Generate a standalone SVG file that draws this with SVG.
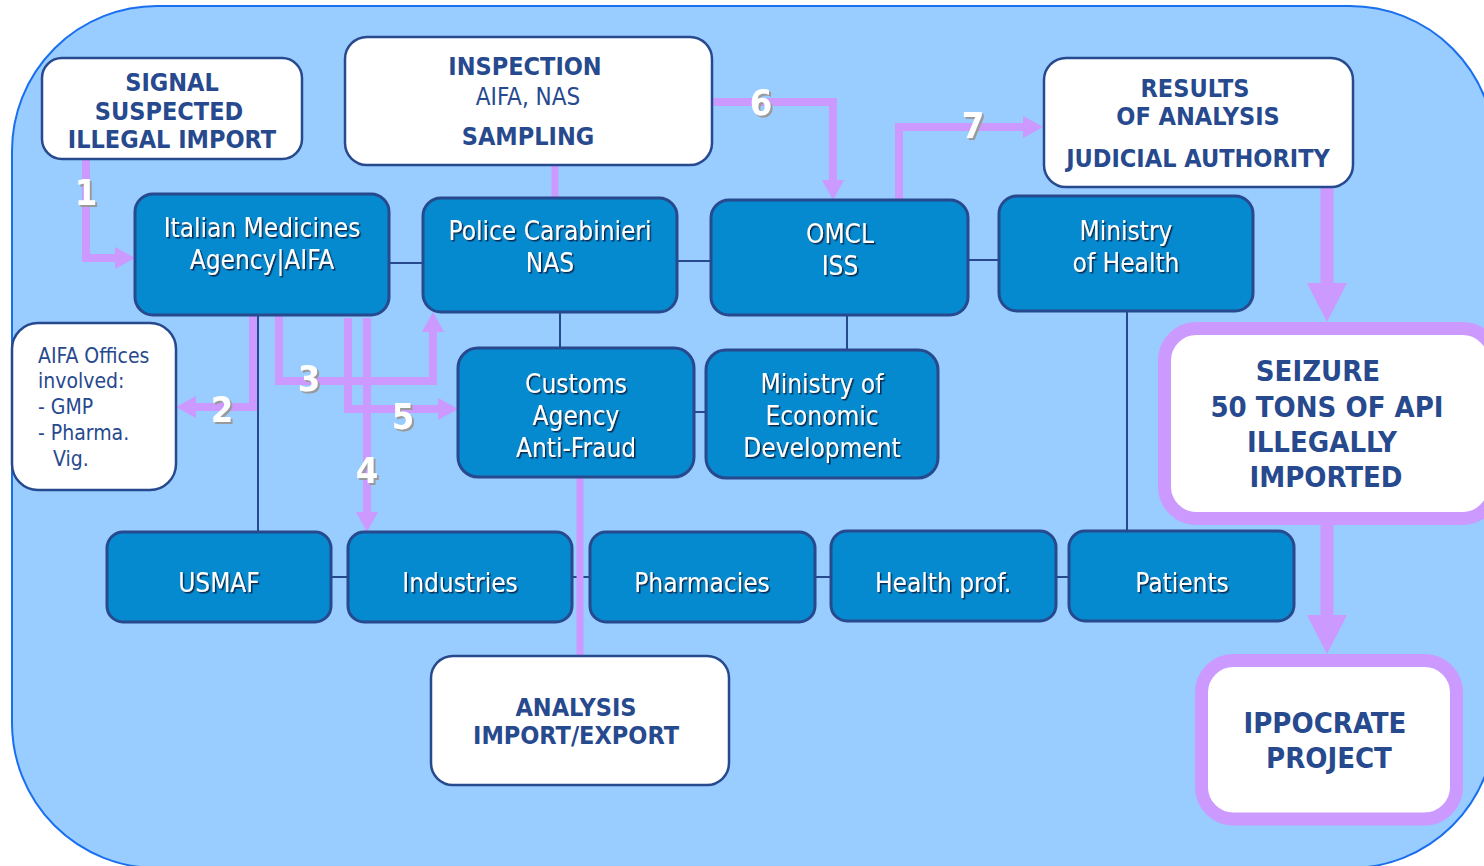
<svg xmlns="http://www.w3.org/2000/svg" width="1484" height="866" viewBox="0 0 1484 866">
<style>
.node{fill:#068acf;stroke:#27498e;stroke-width:3}
.wbox{fill:#ffffff;stroke:#27498e;stroke-width:2.5}
.pbox{fill:#ffffff;stroke:#cc99ff;stroke-width:13}
.nt{font-family:"DejaVu Sans Condensed","DejaVu Sans",sans-serif;font-stretch:condensed;font-size:26px;fill:#ffffff;text-anchor:middle;filter:url(#ts)}
.bt{font-family:"DejaVu Sans Condensed","DejaVu Sans",sans-serif;font-stretch:condensed;font-weight:bold;font-size:25px;fill:#27498e;text-anchor:middle}
.rt{font-family:"DejaVu Sans Condensed","DejaVu Sans",sans-serif;font-stretch:condensed;font-size:24px;fill:#27498e;text-anchor:middle}
.ot{font-family:"DejaVu Sans Condensed","DejaVu Sans",sans-serif;font-stretch:condensed;font-size:21px;fill:#27498e}
.num{font-family:"DejaVu Sans Condensed","DejaVu Sans",sans-serif;font-stretch:condensed;font-weight:bold;font-size:36px;fill:#ffffff;text-anchor:middle;filter:url(#ls)}
.thin{fill:none;stroke:#27498e;stroke-width:2}
.pa{fill:none;stroke:#cc99ff;stroke-width:8;stroke-linejoin:miter}
.pl{fill:none;stroke:#cc99ff;stroke-width:13}
</style>
<defs>
<filter id="ts" x="-10%" y="-20%" width="130%" height="150%">
<feDropShadow dx="1.5" dy="1.5" stdDeviation="0.4" flood-color="#0a1a40" flood-opacity="0.9"/>
</filter>
<filter id="ls" x="-20%" y="-20%" width="150%" height="150%">
<feDropShadow dx="2" dy="2" stdDeviation="0.5" flood-color="#9a9a9a" flood-opacity="1"/>
</filter>
<marker id="ah" markerUnits="userSpaceOnUse" markerWidth="21" markerHeight="24" refX="0" refY="12" orient="auto">
<path d="M0,1 L20,12 L0,23 Z" fill="#cc99ff"/>
</marker>
<marker id="ahb" markerUnits="userSpaceOnUse" markerWidth="40" markerHeight="42" refX="0" refY="21" orient="auto">
<path d="M0,1 L39,21 L0,41 Z" fill="#cc99ff"/>
</marker>
</defs>

<rect x="0" y="0" width="1484" height="866" fill="#ffffff"/>
<rect id="background" x="12" y="6" width="1483" height="862" rx="145" ry="145" fill="#99ccff" stroke="#1a6ef0" stroke-width="2"/>

<g id="connectors">
<path class="thin" d="M389,263 H423"/>
<path class="thin" d="M677,261 H711"/>
<path class="thin" d="M968,260 H999"/>
<path class="thin" d="M560,312 V348"/>
<path class="thin" d="M847,315 V350"/>
<path class="thin" d="M694,412 H706"/>
<path class="thin" d="M1127,311 V531"/>
<path class="thin" d="M258,315 V532"/>
<path class="thin" d="M331,577 H348"/>
<path class="thin" d="M572,577 H590"/>
<path class="thin" d="M815,577 H831"/>
<path class="thin" d="M1056,577 H1069"/>

<path class="pa" style="stroke-width:7" d="M555,165 V197"/>
<path class="pa" style="stroke-width:7" d="M580,477 V656"/>

<path class="pa" d="M86,159 V258 H115" marker-end="url(#ah)"/>
<path class="pa" d="M253,316 V407 H196" marker-end="url(#ah)"/>
<path class="pa" d="M279,316 V381 H433 V332" marker-end="url(#ah)"/>
<path class="pa" d="M348,318 V409 H438" marker-end="url(#ah)"/>
<path class="pa" d="M367,318 V512" marker-end="url(#ah)"/>
<path class="pa" d="M712,102 H833 V180" marker-end="url(#ah)"/>
<path class="pa" d="M899,200 V127 H1023" marker-end="url(#ah)"/>
<path class="pl" d="M1327,187 V283" marker-end="url(#ahb)"/>
<path class="pl" d="M1327,525 V615" marker-end="url(#ahb)"/>

<text class="num" x="86" y="205">1</text>
<text class="num" x="222" y="422">2</text>
<text class="num" x="309" y="391">3</text>
<text class="num" x="367" y="483">4</text>
<text class="num" x="403" y="429">5</text>
<text class="num" x="761" y="115">6</text>
<text class="num" x="973" y="138">7</text>
</g>

<g id="signal">
<rect class="wbox" x="42" y="58" width="260" height="101" rx="20"/>
<text class="bt" x="172" y="91">SIGNAL</text>
<text class="bt" x="169" y="120">SUSPECTED</text>
<text class="bt" x="172" y="148">ILLEGAL IMPORT</text>
</g>

<g id="inspection">
<rect class="wbox" x="345" y="37" width="367" height="128" rx="22"/>
<text class="bt" x="525" y="75">INSPECTION</text>
<text class="rt" x="528" y="105">AIFA, NAS</text>
<text class="bt" x="528" y="145">SAMPLING</text>
</g>

<g id="results">
<rect class="wbox" x="1044" y="58" width="309" height="129" rx="22"/>
<text class="bt" x="1195" y="97">RESULTS</text>
<text class="bt" x="1198" y="125">OF ANALYSIS</text>
<text class="bt" x="1198" y="167">JUDICIAL AUTHORITY</text>
</g>

<g id="aifa">
<rect class="node" x="135" y="194" width="254" height="121" rx="18"/>
<text class="nt" x="262" y="237">Italian Medicines</text>
<text class="nt" x="262" y="269">Agency|AIFA</text>
</g>

<g id="police">
<rect class="node" x="423" y="198" width="254" height="114" rx="18"/>
<text class="nt" x="550" y="240">Police Carabinieri</text>
<text class="nt" x="550" y="272">NAS</text>
</g>

<g id="omcl">
<rect class="node" x="711" y="200" width="257" height="115" rx="18"/>
<text class="nt" x="840" y="243">OMCL</text>
<text class="nt" x="840" y="275">ISS</text>
</g>

<g id="ministry-health">
<rect class="node" x="999" y="196" width="254" height="115" rx="18"/>
<text class="nt" x="1126" y="240">Ministry</text>
<text class="nt" x="1126" y="272">of Health</text>
</g>

<g id="aifa-offices">
<rect class="wbox" x="12" y="323" width="164" height="167" rx="26"/>
<text class="ot" x="38" y="363">AIFA Offices</text>
<text class="ot" x="38" y="388">involved:</text>
<text class="ot" x="38" y="414">- GMP</text>
<text class="ot" x="38" y="440">- Pharma.</text>
<text class="ot" x="53" y="466">Vig.</text>
</g>

<g id="customs">
<rect class="node" x="458" y="348" width="236" height="129" rx="20"/>
<text class="nt" x="576" y="393">Customs</text>
<text class="nt" x="576" y="425">Agency</text>
<text class="nt" x="576" y="457">Anti-Fraud</text>
</g>

<g id="ministry-econ">
<rect class="node" x="706" y="350" width="232" height="128" rx="20"/>
<text class="nt" x="822" y="393">Ministry of</text>
<text class="nt" x="822" y="425">Economic</text>
<text class="nt" x="822" y="457">Development</text>
</g>

<g id="usmaf">
<rect class="node" x="107" y="532" width="224" height="90" rx="16"/>
<text class="nt" x="219" y="592">USMAF</text>
</g>
<g id="industries">
<rect class="node" x="348" y="532" width="224" height="90" rx="16"/>
<text class="nt" x="460" y="592">Industries</text>
</g>
<g id="pharmacies">
<rect class="node" x="590" y="532" width="225" height="90" rx="16"/>
<text class="nt" x="702" y="592">Pharmacies</text>
</g>
<g id="health-prof">
<rect class="node" x="831" y="531" width="225" height="90" rx="16"/>
<text class="nt" x="943" y="592">Health prof.</text>
</g>
<g id="patients">
<rect class="node" x="1069" y="531" width="225" height="90" rx="16"/>
<text class="nt" x="1182" y="592">Patients</text>
</g>

<g id="analysis">
<rect class="wbox" x="431" y="656" width="298" height="129" rx="22"/>
<text class="bt" x="576" y="716">ANALYSIS</text>
<text class="bt" x="576" y="744">IMPORT/EXPORT</text>
</g>

<g id="seizure">
<rect class="pbox" x="1164.5" y="328.5" width="330" height="190" rx="32"/>
<text class="bt" style="font-size:29px" x="1318" y="381">SEIZURE</text>
<text class="bt" style="font-size:29px" x="1327" y="417">50 TONS OF API</text>
<text class="bt" style="font-size:29px" x="1322" y="452">ILLEGALLY</text>
<text class="bt" style="font-size:29px" x="1326" y="487">IMPORTED</text>
</g>

<g id="ippocrate">
<rect class="pbox" x="1201.5" y="660.5" width="255" height="158.5" rx="32"/>
<text class="bt" style="font-size:29px" x="1325" y="733">IPPOCRATE</text>
<text class="bt" style="font-size:29px" x="1329" y="768">PROJECT</text>
</g>
</svg>
